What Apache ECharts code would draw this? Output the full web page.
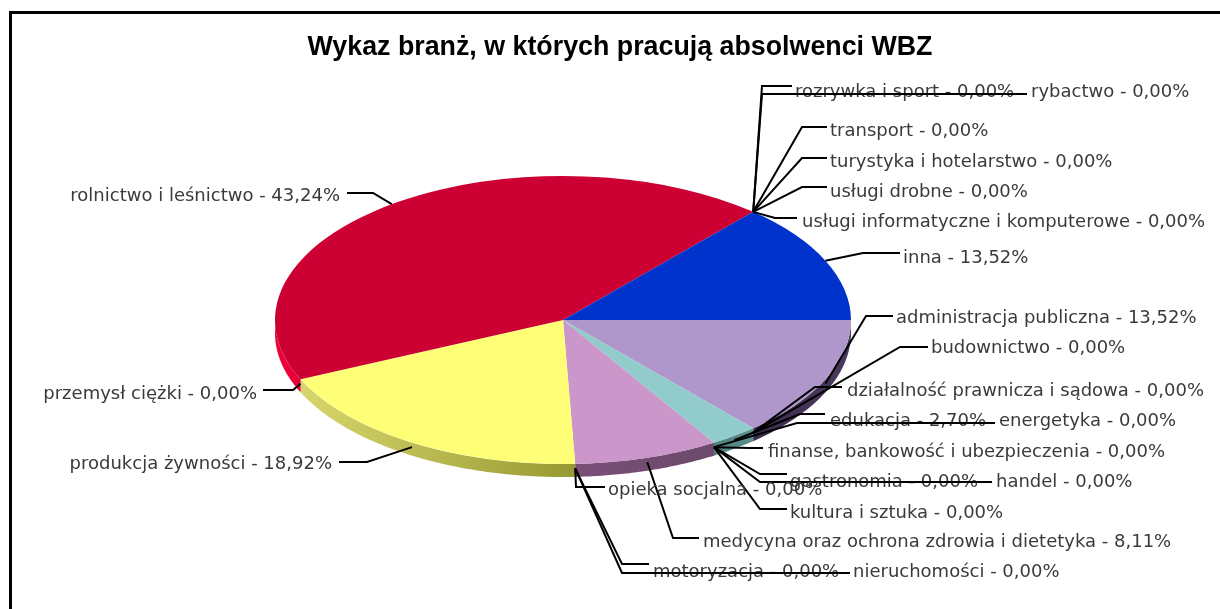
<!DOCTYPE html>
<html><head><meta charset="utf-8">
<style>html,body{margin:0;padding:0;background:#fff}#c{width:1220px;height:609px;filter:blur(0.6px)}</style>
<script src="https://cdn.jsdelivr.net/npm/echarts@6/dist/echarts.min.js"></script>
</head><body><div id="c"></div>
<script>
const chartTitle = 'Wykaz branż, w których pracują absolwenci WBZ';
const categories = ['administracja publiczna','budownictwo','działalność prawnicza i sądowa','edukacja','energetyka','finanse, bankowość i ubezpieczenia','gastronomia','handel','kultura i sztuka','medycyna oraz ochrona zdrowia i dietetyka','motoryzacja','nieruchomości','opieka socjalna','produkcja żywności','przemysł ciężki','rolnictwo i leśnictwo','rozrywka i sport','rybactwo','transport','turystyka i hotelarstwo','usługi drobne','usługi informatyczne i komputerowe','inna'];
const values = [13.52,0,0,2.70,0,0,0,0,0,8.11,0,0,0,18.92,0,43.24,0,0,0,0,0,0,13.52];
const valueLabels = ['13,52','0,00','0,00','2,70','0,00','0,00','0,00','0,00','0,00','8,11','0,00','0,00','0,00','18,92','0,00','43,24','0,00','0,00','0,00','0,00','0,00','0,00','13,52'];

// Styling, parallel to categories
const faceColors = ['#AF97CB','#AF97CB','#AF97CB','#92CBCB','#92CBCB','#92CBCB','#CB96C9','#CB96C9','#CB96C9','#CB96C9','#CB96C9','#CB96C9','#CB96C9','#FFFF77','#FFFF77','#CC0033','#CC0033','#CC0033','#CC0033','#CC0033','#CC0033','#CC0033','#0033CC'];
const sideColors = {'#AF97CB':['#3a2c4c','#4a3a5f'],'#92CBCB':['#4f8080','#5f9090'],'#CB96C9':['#7a4f78','#6a4a6a'],'#FFFF77':['#d6d66c','#999933'],'#CC0033':['#f00038','#e8003a'],'#0033CC':['#001a80','#001a80']};

// Label layout: elbow x, elbow y, line end x, text x, text centre y
const labelLayout = [
 [866,316,893,896,318],[900,347,928,931,348],[815,387,842,847,391],[800,414,825,830,421],[797,423,995,999,421],
 [750,448,763,768,452],[760,474,787,790,482],[760,482,992,996,482],[760,509,787,790,513],[673,538,699,703,542],
 [622,564,649,653,572],[622,573,850,853,572],[576,487,605,608,490],[367,462,339,332,464],[293,390,263,257,394],
 [373,193,347,340,196],[762,86,792,795,92],[762,94,1027,1031,92],[802,127,827,830,131],[802,158,827,830,162],
 [802,187,827,830,192],[775,218,797,802,222],[863,253,900,903,258]
];

const CX = 563, CY = 320, RX = 288, RY = 144, DEPTH = 13, ANCHOR_DROP = 4.5;
const total = values.reduce((a,b)=>a+b,0);
let acc = 0;
const arcs = values.map(v => { const s = acc; acc += v; return [s/total*Math.PI*2, acc/total*Math.PI*2]; });
const seriesData = categories.map((n,i)=>({name:n, value:[arcs[i][0], arcs[i][1], values[i]]}));

function sideItem(params, api){
  const a = Math.max(0, api.value(0)), b = Math.min(Math.PI, api.value(1));
  if (b <= a) return null;
  const top=[], bottom=[];
  const n = Math.ceil((b-a)/0.01);
  for (let k=0;k<=n;k++){ const t=a+(b-a)*k/n;
    const x=CX+RX*Math.cos(t), y=CY+RY*Math.sin(t);
    top.push([x,y]); bottom.unshift([x,y+DEPTH]); }
  const col = sideColors[faceColors[params.dataIndex]];
  return {type:'polygon', shape:{points:top.concat(bottom)},
    style:{fill:new echarts.graphic.LinearGradient(0,0,1,0,[{offset:0,color:col[0]},{offset:1,color:col[1]}])}};
}
function faceItem(params, api){
  const a=api.value(0), b=api.value(1);
  if (b-a<=0) return null;
  return {type:'sector', x:CX, y:CY, scaleX:1, scaleY:RY/RX,
    shape:{cx:0,cy:0,r0:0,r:RX,startAngle:a,endAngle:b,clockwise:true},
    style:{fill:faceColors[params.dataIndex]}};
}
function labelItem(params, api){
  const i=params.dataIndex, L=labelLayout[i];
  const mid=(api.value(0)+api.value(1))/2;
  const s=Math.sin(mid);
  const ax=CX+RX*Math.cos(mid), ay=CY+RY*s+(s>0?ANCHOR_DROP:0);
  const right=L[3]<L[2];
  return {type:'group', children:[
    {type:'polyline', shape:{points:[[ax,ay],[L[0],L[1]],[L[2],L[1]]]},
      style:{stroke:'#000',lineWidth:2,fill:null}},
    {type:'text', style:{text:categories[i]+' - '+valueLabels[i]+'%', x:L[3], y:L[4],
      align:right?'right':'left', verticalAlign:'middle', font:'18px "DejaVu Sans"', fill:'#3a3a3a'}}
  ]};
}
const chart = echarts.init(document.getElementById('c'), null, {renderer:'canvas'});
chart.setOption({
  animation:false,
  backgroundColor:'#fff',
  title:{text:chartTitle,left:615,top:29,textAlign:'center',
    textStyle:{fontFamily:'"Liberation Sans"',fontWeight:'bold',fontSize:26.8,color:'#000'}},
  graphic:[{type:'rect',shape:{x:10.5,y:12.5,width:1230,height:620},style:{fill:null,stroke:'#000',lineWidth:3},z:50}],
  series:[
    {type:'custom',coordinateSystem:'none',data:seriesData,renderItem:sideItem,z:1,silent:true},
    {type:'custom',coordinateSystem:'none',data:seriesData,renderItem:faceItem,z:2,silent:true},
    {type:'custom',coordinateSystem:'none',data:seriesData,renderItem:labelItem,z:3,silent:true}
  ]
});
</script></body></html>
